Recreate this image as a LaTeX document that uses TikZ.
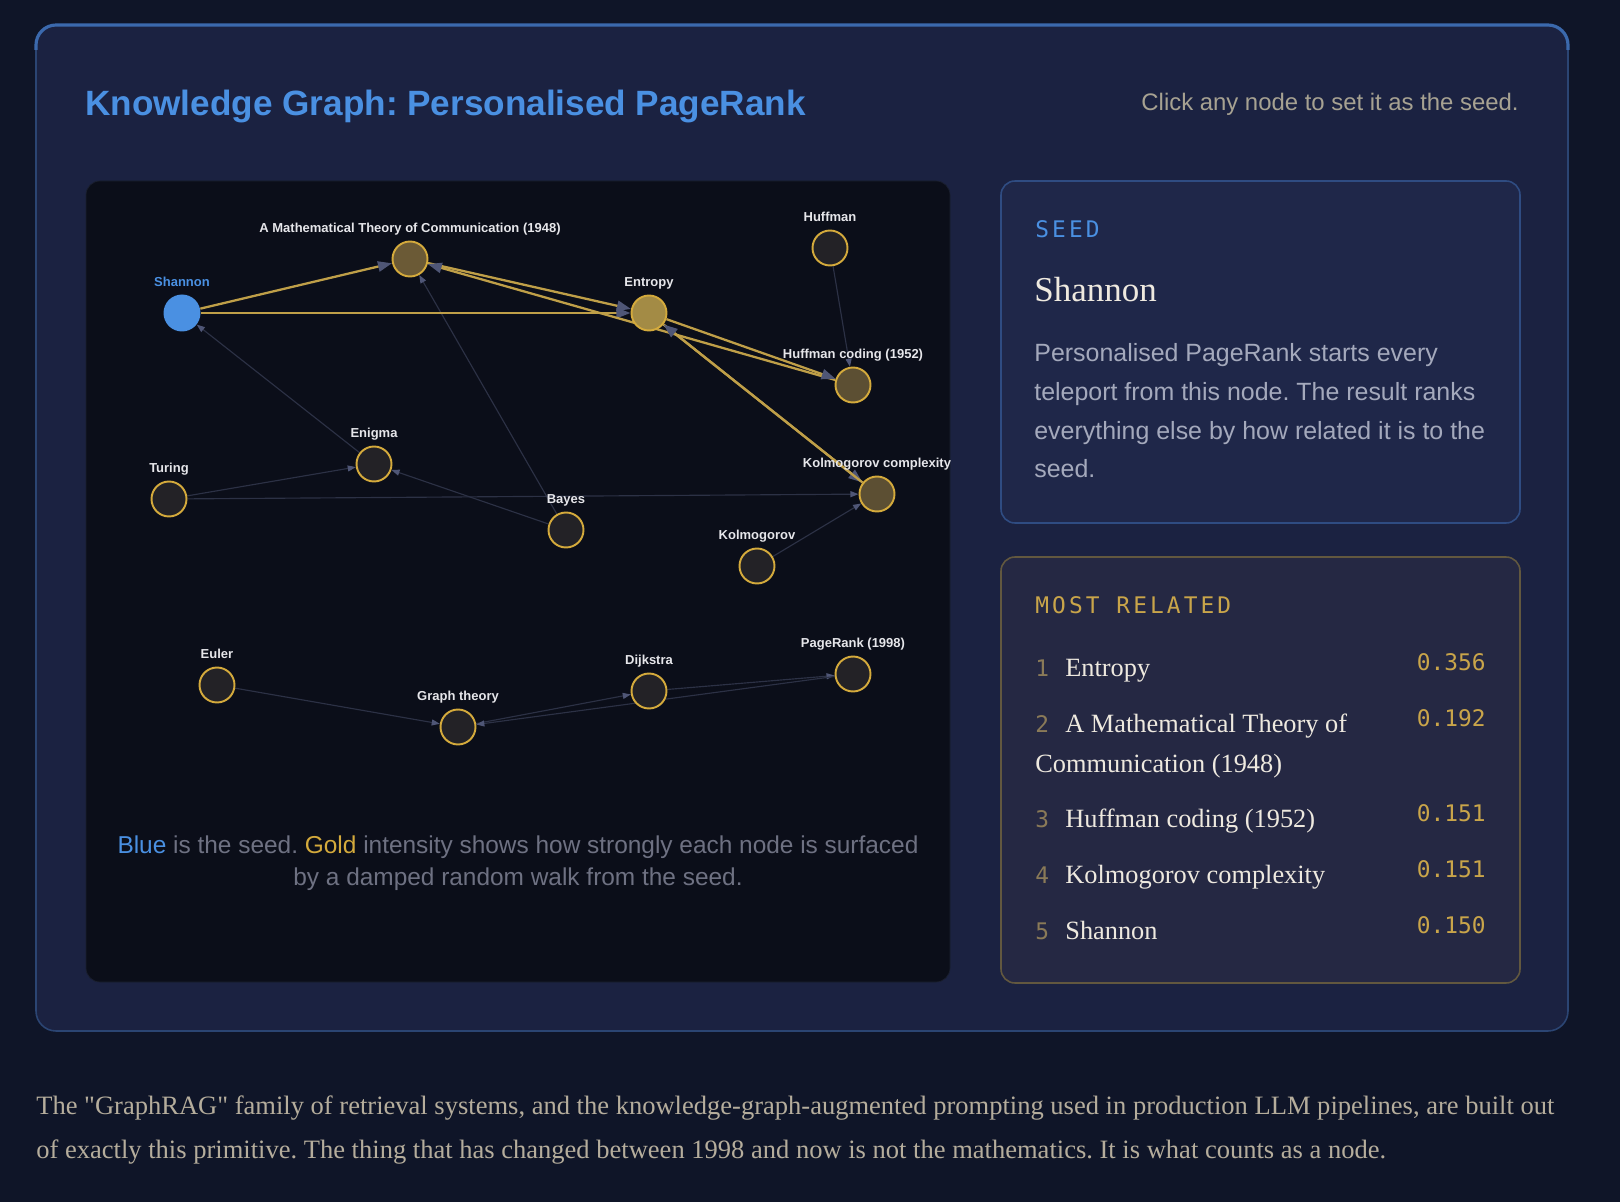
\documentclass[tikz,border=0pt]{standalone}
\usepackage{fontspec}
\setmainfont{Liberation Serif}
\setsansfont{Liberation Sans}
\setmonofont{DejaVu Sans Mono}
\newfontfamily\prose{Liberation Serif}[Ligatures=TeXOff]
\newfontfamily\trackmono{DejaVu Sans Mono}[LetterSpace=13.5]
\usetikzlibrary{arrows.meta,positioning}
\frenchspacing
\definecolor{pagebg}{HTML}{0F1528}
\definecolor{cardbg}{HTML}{1B2241}
\definecolor{cardline}{HTML}{2B4573}
\definecolor{cardtop}{HTML}{3B69AD}
\definecolor{panelbg}{HTML}{0B0E19}
\definecolor{panelline}{HTML}{1A1F2E}
\definecolor{seedbg}{HTML}{1F2749}
\definecolor{seedline}{HTML}{2F4C82}
\definecolor{rankbg}{HTML}{252843}
\definecolor{rankline}{HTML}{62583F}
\definecolor{seedblue}{HTML}{4A90E2}
\definecolor{gold}{HTML}{D4AA3C}
\definecolor{goldedge}{HTML}{BF9F48}
\definecolor{scoregold}{HTML}{C9A54A}
\definecolor{mutedgold}{HTML}{8A7A58}
\definecolor{wire}{HTML}{2C3145}
\definecolor{tipslate}{HTML}{4F5676}
\definecolor{nodedark}{HTML}{232226}
\definecolor{heatA}{HTML}{A38B45}
\definecolor{heatB}{HTML}{6B5A36}
\definecolor{heatC}{HTML}{5C4F33}
\definecolor{labelwhite}{HTML}{E6E6EA}
\definecolor{captiongray}{HTML}{6E7182}
\definecolor{hintgray}{HTML}{A7A292}
\definecolor{bodygray}{HTML}{A4A9BC}
\definecolor{cream}{HTML}{EEE9DF}
\definecolor{prosegray}{HTML}{B5AD9C}
\pgfdeclarelayer{back}
\pgfdeclarelayer{wires}
\pgfsetlayers{back,wires,main}

\begin{document}
\begin{tikzpicture}[
 x=0.02cm,y=-0.02cm,
 concept/.style={circle,draw=gold,line width=1.1pt,fill=nodedark,minimum size=0.7cm,inner sep=0pt},
 seednode/.style={circle,fill=seedblue,minimum size=0.74cm,inner sep=0pt},
 lbl/.style={font=\sffamily\bfseries\fontsize{7.4}{8}\selectfont,text=labelwhite,inner sep=0pt,text depth=0pt},
 label distance=0.15cm,
 hot/.style={draw=goldedge,line width=1.3pt,-{Triangle[length=8pt,width=5.8pt,color=tipslate]}},
 cold/.style={draw=wire,line width=0.65pt,-{Triangle[length=4.6pt,width=3.4pt,color=tipslate]}},
 caption/.style={anchor=base,inner sep=0pt,font=\sffamily\fontsize{13.9}{16}\selectfont,text=captiongray},
 para/.style={anchor=base west,inner sep=0pt,font=\sffamily\fontsize{14.2}{16}\selectfont,text=bodygray},
 rank/.style={anchor=base west,inner sep=0pt,font=\ttfamily\fontsize{13}{15}\selectfont,text=mutedgold},
 item/.style={anchor=base west,inner sep=0pt,font=\fontsize{15}{18}\selectfont,text=cream},
 score/.style={anchor=base east,inner sep=0pt,font=\ttfamily\fontsize{13}{15}\selectfont,text=scoregold},
 proseline/.style={anchor=base west,inner sep=0pt,font=\prose\fontsize{15.1}{18}\selectfont,text=prosegray}
]
\useasboundingbox (0,0) rectangle (1620,1202);
\begin{pgfonlayer}{back}
\fill[pagebg] (0,0) rectangle (1620,1202);
\draw[cardline,fill=cardbg,line width=0.9pt,rounded corners=0.4cm] (36,25) rectangle (1568,1031);
\draw[cardtop,line width=1.8pt,rounded corners=0.4cm] (36,50) |- (1568,25) -- (1568,50);
\draw[panelline,fill=panelbg,rounded corners=0.28cm] (86,181) rectangle (950,982);
\draw[seedline,fill=seedbg,line width=0.9pt,rounded corners=0.28cm] (1001,181) rectangle (1520,523);
\draw[rankline,fill=rankbg,line width=0.9pt,rounded corners=0.28cm] (1001,557) rectangle (1520,983);
\end{pgfonlayer}

\node[anchor=base west,inner sep=0pt,font=\sffamily\bfseries\fontsize{20}{24}\selectfont,text=seedblue] (title) at (85,116) {Knowledge Graph: Personalised PageRank};
\node[anchor=base east,inner sep=0pt,font=\sffamily\fontsize{13.6}{16}\selectfont,text=hintgray] (hint) at (1519,111) {Click any node to set it as the seed.};

\node[seednode,label={[lbl,text=seedblue]above:Shannon}] (shannon) at (182,313) {};
\node[concept,fill=heatB,label={[lbl]above:A Mathematical Theory of Communication (1948)}] (amtc) at (410,259) {};
\node[concept,fill=heatA,label={[lbl]above:Entropy}] (entropy) at (649,313) {};
\node[concept,label={[lbl]above:Huffman}] (huffman) at (830,248) {};
\node[concept,fill=heatC,label={[lbl]above:Huffman coding (1952)}] (hcoding) at (853,385) {};
\node[concept,label={[lbl]above:Enigma}] (enigma) at (374,464) {};
\node[concept,label={[lbl]above:Turing}] (turing) at (169,499) {};
\node[concept,label={[lbl]above:Bayes}] (bayes) at (566,530) {};
\node[concept,fill=heatC,label={[lbl]above:Kolmogorov complexity}] (kcomplex) at (877,494) {};
\node[concept,label={[lbl]above:Kolmogorov}] (kolmo) at (757,566) {};
\node[concept,label={[lbl]above:Euler}] (euler) at (217,685) {};
\node[concept,label={[lbl]above:Graph theory}] (gtheory) at (458,727) {};
\node[concept,label={[lbl]above:Dijkstra}] (dijkstra) at (649,691) {};
\node[concept,label={[lbl]above:PageRank (1998)}] (pagerank) at (853,674) {};

\begin{pgfonlayer}{wires}
\draw[cold] (enigma)--(shannon); \draw[cold] (turing)--(enigma);
\draw[cold] (turing)--(kcomplex); \draw[cold] (bayes)--(enigma);
\draw[cold] (bayes)--(amtc); \draw[cold] (kolmo)--(kcomplex);
\draw[cold] (huffman)--(hcoding); \draw[cold] (euler)--(gtheory);
\draw[cold] (gtheory)--(dijkstra); \draw[cold] (dijkstra)--(pagerank);
\draw[cold] (pagerank)--(gtheory);
\draw[hot] (shannon)--(amtc); \draw[hot] (shannon)--(entropy);
\draw[hot] (amtc)--(entropy); \draw[hot] (hcoding)--(amtc);
\draw[hot] (entropy)--(hcoding); \draw[hot] (entropy)--(kcomplex);
\draw[hot] (kcomplex)--(entropy);
\end{pgfonlayer}

\node[caption] (cap1) at (518,853) {\textcolor{seedblue}{Blue} is the seed. \textcolor{gold}{Gold} intensity shows how strongly each node is surfaced};
\node[caption] (cap2) at (518,885) {by a damped random walk from the seed.};

\node[anchor=base west,inner sep=0pt,font=\trackmono\fontsize{13}{15}\selectfont,text=seedblue] (seedhead) at (1035,238) {SEED};
\node[anchor=base west,inner sep=0pt,font=\fontsize{19.9}{24}\selectfont,text=cream] (seedname) at (1034,302) {Shannon};
\node[para] (p1) at (1034,362) {Personalised PageRank starts every};
\node[para] (p2) at (1034,401) {teleport from this node. The result ranks};
\node[para] (p3) at (1034,440) {everything else by how related it is to the};
\node[para] (p4) at (1034,478) {seed.};

\node[anchor=base west,inner sep=0pt,font=\trackmono\fontsize{13}{15}\selectfont,text=scoregold] (mosthead) at (1035,614) {MOST RELATED};
\node[rank] (n1) at (1035,677) {1}; \node[item] (e1) at (1065,677) {Entropy};
\node[score] (s1) at (1486,670) {0.356};
\node[rank] (n2) at (1035,732) {2}; \node[item] (e2) at (1065,732) {A Mathematical Theory of};
\node[item] (e2b) at (1035,772) {Communication (1948)};
\node[score] (s2) at (1486,726) {0.192};
\node[rank] (n3) at (1035,827) {3}; \node[item] (e3) at (1065,827) {Huffman coding (1952)};
\node[score] (s3) at (1486,821) {0.151};
\node[rank] (n4) at (1035,883) {4}; \node[item] (e4) at (1065,883) {Kolmogorov complexity};
\node[score] (s4) at (1486,877) {0.151};
\node[rank] (n5) at (1035,939) {5}; \node[item] (e5) at (1065,939) {Shannon};
\node[score] (s5) at (1486,933) {0.150};

\node[proseline] (prose1) at (36,1114) {The "GraphRAG" family of retrieval systems, and the knowledge-graph-augmented prompting used in production LLM pipelines, are built out};
\node[proseline] (prose2) at (36,1158) {of exactly this primitive. The thing that has changed between 1998 and now is not the mathematics. It is what counts as a node.};
\end{tikzpicture}
\end{document}
